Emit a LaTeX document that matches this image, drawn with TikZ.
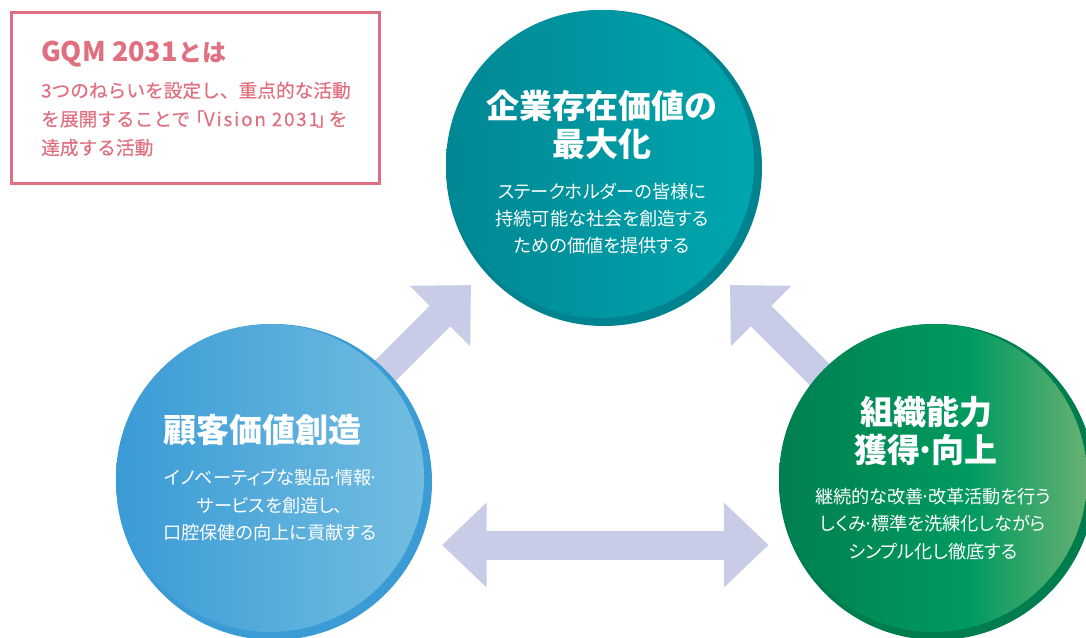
\documentclass[tikz,border=0pt]{standalone}
\usepackage{fontspec}
\setmainfont{Noto Sans CJK JP}
\newfontfamily\medfont[FakeBold=0.3]{Noto Sans CJK JP}
\newfontfamily\propfont[RawFeature=+palt]{Noto Sans CJK JP}
\newfontfamily\bodylatin[FakeBold=0.3,LetterSpace=10]{Noto Sans CJK JP}
\usetikzlibrary{arrows.meta}
\definecolor{pinkc}{HTML}{E0707F}
\definecolor{arrowc}{HTML}{C8CCE6}
\definecolor{tealdark}{HTML}{00828F}
\definecolor{teala}{HTML}{008794}
\definecolor{tealb}{HTML}{00A6AE}
\definecolor{bluedark}{HTML}{3A9BD5}
\definecolor{bluea}{HTML}{3A9BD5}
\definecolor{blueb}{HTML}{72BDE1}
\definecolor{greendark}{HTML}{007D4E}
\definecolor{greena}{HTML}{007F50}
\definecolor{greenb}{HTML}{009A60}
\definecolor{greenc}{HTML}{66B172}
\pgfdeclarehorizontalshading{greenshade}{100bp}{color(0bp)=(greena); color(25bp)=(greena); color(56bp)=(greenb); color(75bp)=(greenc); color(100bp)=(greenc)}
\tikzset{
  px/.style={x=1pt,y=-1pt},
  backdisc/.style={circle,inner sep=0pt,minimum size=#1},
  frontdisc/.style={circle,inner sep=0pt,minimum size=#1},
  blockarrow/.style={line width=29pt,draw=arrowc,{-{Triangle[length=44pt,width=83pt]}}},
  doublearrow/.style={line width=29pt,draw=arrowc,{{Triangle[length=44.5pt,width=82pt]}-{Triangle[length=44.5pt,width=82pt]}}},
  titletext/.style={text=white,align=center,font=\fontsize{33}{38}\selectfont\bfseries},
  bodytext/.style={text=white,align=center,font=\fontsize{18.2}{27.3}\selectfont\propfont},
  infobox/.style={draw=pinkc,line width=3pt,fill=white,minimum width=368pt,minimum height=171pt,inner sep=0pt},
  infohead/.style={text=pinkc,anchor=west,inner sep=0pt,font=\fontsize{24}{28}\selectfont\bfseries},
  infobody/.style={text=pinkc,anchor=north west,inner sep=0pt,align=left,font=\fontsize{18.7}{28.6}\selectfont\medfont},
}
\newcommand{\tightdot}{\kern-3pt·\kern-3pt}
\begin{document}
\begin{tikzpicture}[px]
\clip (0,0) rectangle (1086,637);
\fill[white] (0,0) rectangle (1086,637);
% anchors of the discs
\coordinate (cT) at (600,164);
\coordinate (cL) at (270,478);
\coordinate (cR) at (933,478);
\coordinate (srcL) at (290,466);
\coordinate (srcR) at (910,465);
\coordinate (tipL) at (471,285);
\coordinate (tipR) at (730,285);
% arrows
\draw[blockarrow] (srcL) -- (tipL);
\draw[blockarrow] (srcR) -- (tipR);
\coordinate (dblL) at (442,545);
\coordinate (dblR) at (768.5,545);
\draw[doublearrow] (dblL) -- (dblR);
% discs
\node[backdisc=316pt,fill=tealdark] (topback) at (604,168) {};
\node[frontdisc=308pt,left color=teala,right color=tealb] (topdisc) at (cT) {};
\node[backdisc=316pt,fill=bluedark] (leftback) at (274,482) {};
\node[frontdisc=308pt,left color=bluea,right color=blueb] (leftdisc) at (cL) {};
\node[backdisc=316pt,fill=greendark] (rightback) at (937,482) {};
\node[frontdisc=308pt,shading=greenshade] (rightdisc) at (cR) {};
% box
\node[infobox] (box) at (195.5,97.5) {};
\node[infohead] (boxhead) at (41,54.5) {{\fontsize{27}{28}\selectfont GQM 2031}\kern1ptとは};
\node[infobody] (boxbody) at (41,81.5) {3つのねらいを設定し、重点的な活動\\を展開することで{\kern-4pt「\kern-1pt}{\bodylatin Vision 2031}{\kern-3pt」\kern-6pt}を\\達成する活動};
% text
\node[titletext] (topt) at (602,125) {企業存在価値の\\最大化};
\node[bodytext] (tops) at (602,218.5) {ステークホルダーの皆様に\\持続可能な社会を創造する\\ための価値を提供する};
\node[titletext] (leftt) at (262,430) {顧客価値創造};
\node[bodytext] (lefts) at (270,505) {イノベーティブな製品\tightdot 情報\tightdot\\サービスを創造し、\\口腔保健の向上に貢献する};
\node[titletext] (rightt) at (926,430.5) {組織能力\\獲得\kern-4.5pt·\kern-4.5pt向上};
\node[bodytext] (rights) at (933,524) {継続的な改善\tightdot 改革活動を行う\\しくみ\tightdot 標準を洗練化しながら\\シンプル化し徹底する};
\end{tikzpicture}
\end{document}
